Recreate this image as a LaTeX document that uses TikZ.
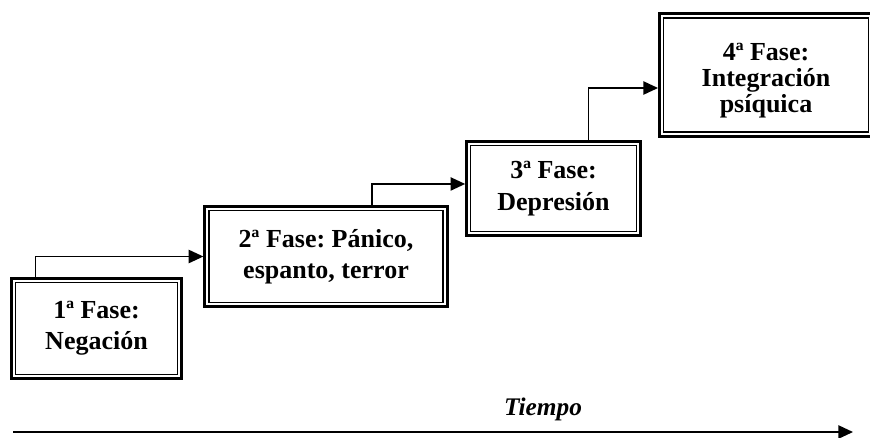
\documentclass[tikz,border=0pt]{standalone}
\usepackage{fontspec}
\setmainfont{Liberation Serif}
\usepackage{tikz}
\usetikzlibrary{positioning, arrows.meta, calc}
\frenchspacing

\begin{document}
\begin{tikzpicture}[
    x=0.75pt, y=-0.75pt,
    fase/.style={rectangle, draw, line width=2pt, inner sep=0pt, align=center,
                 font=\fontsize{19.5pt}{23.5pt}\selectfont\bfseries,
                 path picture={\draw[line width=1pt]
                   ([shift={(3.2pt,3.2pt)}]path picture bounding box.south west) rectangle
                   ([shift={(-3.2pt,-3.2pt)}]path picture bounding box.north east);}},
    arrow/.style={-{Triangle[length=11pt, width=10pt]}, line width=1.1pt}
  ]
  \useasboundingbox (0,0) rectangle (870,437);
  % fases
  \node[fase, minimum width=127.5pt, minimum height=75pt] (f1) at (96.5,328.5) {1ª Fase:\\Negación};
  \node[fase, minimum width=182pt, minimum height=75pt] (f2) at (326,256.5) {2ª Fase: Pánico,\\espanto, terror};
  \node[fase, minimum width=130.5pt, minimum height=70.5pt] (f3) at (553.5,188.5) {3ª Fase:\\Depresión};
  \node[fase, minimum width=160pt, minimum height=92pt,
        font=\fontsize{19.5pt}{19.5pt}\selectfont\bfseries] (f4) at (766,75) {\rule{0pt}{21pt}4ª Fase:\\Integración\\psíquica};
  % escalones
  \draw[arrow] ($(f1.north west)+(25.5,0)$) |- (f2.west);
  \draw[arrow] ($(f2.north west)+(168.5,0)$) |- ([yshift=3.4pt]f3.west);
  \draw[arrow] ($(f3.north west)+(123.5,0)$) |- ([yshift=-9.75pt]f4.west);
  % eje del tiempo
  \coordinate (t0) at (13,432);
  \coordinate (t1) at (853,432);
  \draw[arrow] (t0) -- (t1);
  \node[font=\fontsize{19pt}{22pt}\selectfont\bfseries\itshape, anchor=base] (tiempo) at (543,415) {Tiempo};
\end{tikzpicture}
\end{document}
